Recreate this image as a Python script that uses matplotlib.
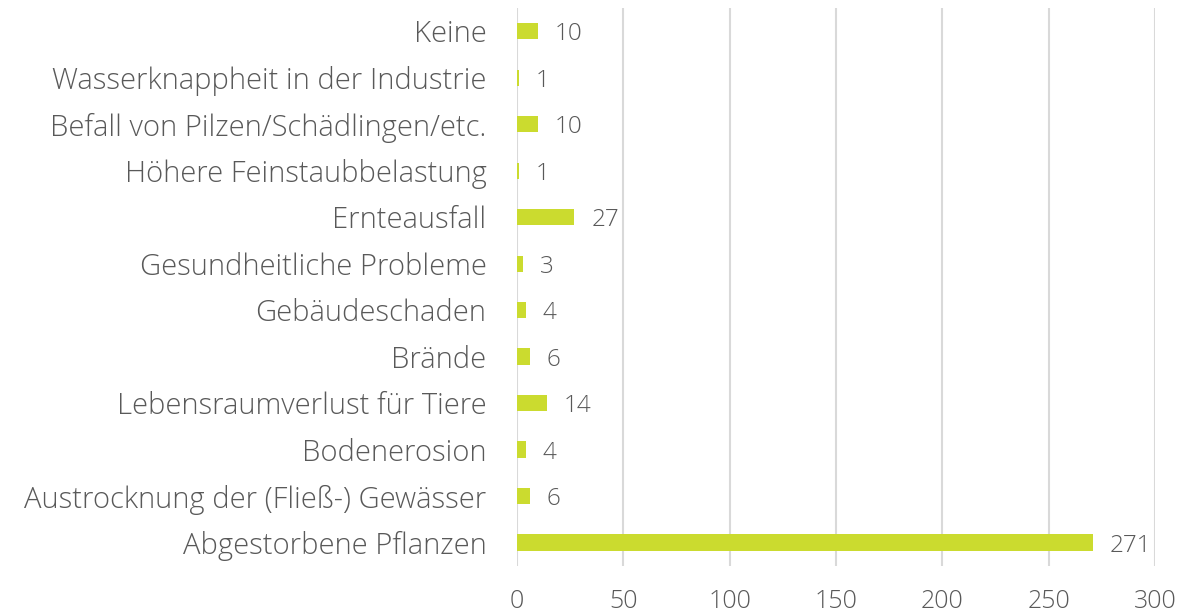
import numpy as np
import matplotlib.pyplot as plt

# Kategorien (von oben nach unten) und Anzahl der Nennungen
categories = [
    "Keine",
    "Wasserknappheit in der Industrie",
    "Befall von Pilzen/Schädlingen/etc.",
    "Höhere Feinstaubbelastung",
    "Ernteausfall",
    "Gesundheitliche Probleme",
    "Gebäudeschaden",
    "Brände",
    "Lebensraumverlust für Tiere",
    "Bodenerosion",
    "Austrocknung der (Fließ-) Gewässer",
    "Abgestorbene Pflanzen",
]
counts = [10, 1, 10, 1, 27, 3, 4, 6, 14, 4, 6, 271]
x_ticks = [0, 50, 100, 150, 200, 250, 300]

plt.rcParams['font.family'] = ['Open Sans', 'DejaVu Sans']

bar_color = '#CBDB2F'
text_color = '#595959'
grid_color = '#D9D9D9'

fig = plt.figure(figsize=(11.81, 6.15), dpi=100)
ax = fig.add_axes([0.4378, 0.080, 0.5402, 0.907])

y = np.arange(len(categories))
ax.barh(y, counts, height=0.35, color=bar_color, zorder=3)

for yi, v in zip(y, counts):
    ax.annotate(str(v), (v, yi), xytext=(12, 0), textcoords='offset points',
                va='center_baseline', ha='left', fontsize=17.5, color=text_color,
                fontweight='light')

ax.set_ylim(len(categories) - 0.5, -0.5)
ax.set_xlim(0, 300)
ax.set_xticks(x_ticks)
ax.set_yticks(y)
ax.set_yticklabels(categories)

ax.xaxis.grid(True, color=grid_color, linewidth=1.5, zorder=0)
ax.yaxis.grid(False)
for s in ax.spines.values():
    s.set_visible(False)

ax.tick_params(axis='y', length=0, pad=22, labelsize=21, labelcolor=text_color)
ax.tick_params(axis='x', length=0, pad=17, labelsize=18, labelcolor=text_color)
for lab in ax.get_yticklabels() + ax.get_xticklabels():
    lab.set_fontweight('light')

fig.savefig('out.png', dpi=100)
